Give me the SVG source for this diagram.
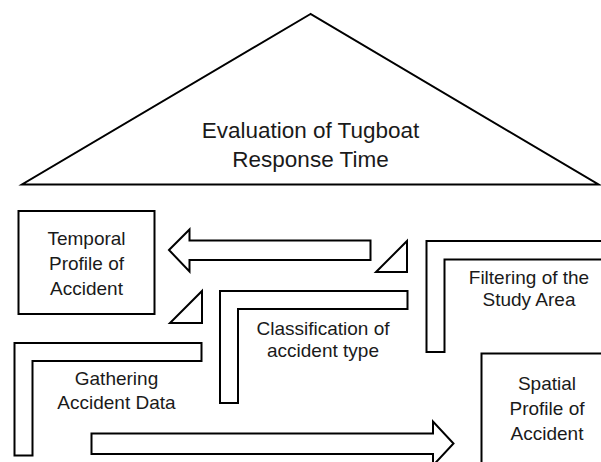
<svg xmlns="http://www.w3.org/2000/svg" width="601" height="462" viewBox="0 0 601 462">
<style>
.s{fill:#fff;stroke:#000;stroke-width:2;stroke-linejoin:miter}
.t{font-family:"Liberation Sans",Arial,sans-serif;font-size:19px;fill:#1a1a1a;text-anchor:middle}
.big{font-size:22.5px}
</style>
<rect width="601" height="462" fill="#fff"/>
<g id="goal">
<polygon class="s" points="310.5,14 22,184.5 598.5,184.5"/>
<text class="t big" x="310.5" y="137.5">Evaluation of Tugboat</text>
<text class="t big" x="310.5" y="166.5">Response Time</text>
</g>
<g id="temporal">
<rect class="s" x="18.5" y="211" width="136" height="103"/>
<text class="t" x="86.5" y="245">Temporal</text>
<text class="t" x="86.5" y="270">Profile of</text>
<text class="t" x="86.5" y="295">Accident</text>
</g>
<g id="gathering">
<polygon class="s" points="14.5,343 201.5,343 201.5,361 32.5,361 32.5,455.5 14.5,455.5"/>
<text class="t" x="116.5" y="385">Gathering</text>
<text class="t" x="116.5" y="408.5">Accident Data</text>
</g>
<g id="classification">
<polygon class="s" points="220,291 407.5,291 407.5,309 238,309 238,403 220,403"/>
<text class="t" x="323" y="334.5">Classification of</text>
<text class="t" x="323" y="357">accident type</text>
</g>
<g id="filtering">
<polygon class="s" points="426.5,241 605,241 605,259.5 444.5,259.5 444.5,352 426.5,352"/>
<text class="t" x="529" y="283.5">Filtering of the</text>
<text class="t" x="529" y="306">Study Area</text>
</g>
<g id="spatial">
<rect class="s" x="481.5" y="353.5" width="125" height="115"/>
<text class="t" x="547" y="390">Spatial</text>
<text class="t" x="547" y="415">Profile of</text>
<text class="t" x="547" y="440">Accident</text>
</g>
<g id="connectors">
<polygon class="s" points="169,250 189.5,229.5 189.5,240.5 370.5,240.5 370.5,260 189.5,260 189.5,271.5"/>
<polygon class="s" points="91.5,433.5 433,433.5 433,421.5 453.5,443.5 433,465.5 433,454 91.5,454"/>
<polygon class="s" points="407,241 407,272 376,272"/>
<polygon class="s" points="202,291 202,323 170,323"/>
</g>
</svg>
